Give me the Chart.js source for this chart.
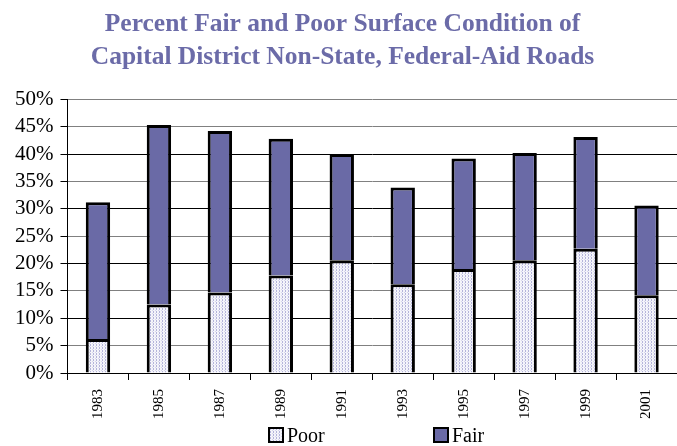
<!DOCTYPE html>
<html>
<head>
<meta charset="utf-8">
<script src="https://cdn.jsdelivr.net/npm/chart.js@4.4.1/dist/chart.umd.min.js"></script>
<style>
  html, body { margin: 0; padding: 0; background: #fff; }
  #wrap { width: 677px; height: 446px; position: relative; }
  #legend {
    position: absolute; left: 0; top: 425px; width: 677px; height: 21px;
    font-family: 'Liberation Serif', 'Times New Roman', serif; font-size: 20px; color: #000;
  }
  .item { position: absolute; top: 0; line-height: 21px; white-space: nowrap; }
  .box {
    display: inline-block; width: 12px; height: 12px; border: 2px solid #000;
    vertical-align: -1px; margin-right: 3px;
  }
</style>
</head>
<body>
<div id="wrap">
  <canvas id="chart"></canvas>
  <div id="legend"></div>
</div>
<script>
const years = ['1983', '1985', '1987', '1989', '1991', '1993', '1995', '1997', '1999', '2001'];
const poorValues = [6.2, 12.5, 14.7, 17.8, 20.6, 16.2, 19.0, 20.6, 22.7, 14.2];
const fairValues = [25.0, 32.8, 29.5, 25.0, 19.4, 17.7, 20.2, 19.6, 20.4, 16.4];
const yTicks = [0, 5, 10, 15, 20, 25, 30, 35, 40, 45, 50];

const fairColor = '#6a6aa6';
const titleColor = '#6b6ba8';
const serif = "'Liberation Serif', 'Times New Roman', serif";

Chart.defaults.font.family = serif;
Chart.defaults.color = '#000';

// dotted fill for the "Poor" bars
function makeDotTile() {
    const c = document.createElement('canvas');
    c.width = 3;
    c.height = 3;
    const g = c.getContext('2d');
    g.fillStyle = '#f4f4fa';
    g.fillRect(0, 0, 3, 3);
    g.fillStyle = '#b4b4da';
    g.fillRect(0, 0, 1, 1);
    g.fillRect(0, 2, 1, 1);
    g.fillStyle = '#d6d6ec';
    g.fillRect(2, 1, 1, 1);
    return c;
}

const dotTile = makeDotTile();

function buildChart() {
    const dotPattern = document.getElementById('chart').getContext('2d').createPattern(dotTile, 'repeat');

    const chart = new Chart(document.getElementById('chart'), {
        type: 'bar',
        data: {
            labels: years,
            datasets: [{
                label: 'Poor',
                data: poorValues,
                backgroundColor: dotPattern,
                borderColor: '#000',
                borderWidth: 3,
                barPercentage: 0.4,
                categoryPercentage: 1
            }, {
                label: 'Fair',
                data: fairValues,
                backgroundColor: fairColor,
                borderColor: '#000',
                borderWidth: 3,
                barPercentage: 0.4,
                categoryPercentage: 1
            }]
        },
        options: {
            responsive: true,
            maintainAspectRatio: false,
            animation: false,
            layout: { padding: { left: 8, right: 0, top: 4, bottom: 18 } },
            plugins: {
                title: {
                    display: true,
                    text: ['Percent Fair and Poor Surface Condition of', 'Capital District Non-State, Federal-Aid Roads'],
                    color: titleColor,
                    font: { family: serif, size: 25.5, weight: 'bold', lineHeight: 1.28 },
                    padding: { top: 4, bottom: 26 }
                },
                legend: { display: false },
                tooltip: { enabled: false }
            },
            scales: {
                x: {
                    stacked: true,
                    afterFit: (scale) => { scale.paddingRight = 0; scale.paddingLeft = 0; },
                    grid: {
                        drawOnChartArea: false,
                        offset: true,
                        color: '#000',
                        tickLength: 7
                    },
                    border: { color: '#000', width: 1 },
                    ticks: {
                        color: '#000',
                        minRotation: 90,
                        maxRotation: 90,
                        padding: 9,
                        font: { family: serif, size: 15 }
                    }
                },
                y: {
                    stacked: true,
                    min: 0,
                    max: 50,
                    afterBuildTicks: (axis) => { axis.ticks = yTicks.map(v => ({ value: v })); },
                    grid: {
                        color: (ctx) => (ctx.tick && ctx.tick.value % 10 === 0 && ctx.tick.value !== 50) ? '#000' : '#808080',
                        tickLength: 7,
                        tickColor: '#000'
                    },
                    border: { color: '#000', width: 1 },
                    ticks: {
                        color: '#000',
                        autoSkip: false,
                        padding: 7,
                        font: { family: serif, size: 21 },
                        callback: (v) => v + '%'
                    }
                }
            }
        }
    });

    // legend below the plot, built from the dataset labels
    const legendEl = document.getElementById('legend');
    const legendLeft = [268, 433];
    chart.data.datasets.forEach((ds, i) => {
        const item = document.createElement('span');
        item.className = 'item';
        item.style.left = legendLeft[i] + 'px';
        const box = document.createElement('span');
        box.className = 'box';
        if (i === 0) {
            box.style.backgroundImage = 'url(' + dotTile.toDataURL() + ')';
        } else {
            box.style.background = ds.backgroundColor;
        }
        item.appendChild(box);
        item.appendChild(document.createTextNode(ds.label));
        legendEl.appendChild(item);
    });
}

// make sure the serif faces are ready before the canvas draws text
Promise.all([
    document.fonts.load("20px 'Liberation Serif'"),
    document.fonts.load("bold 25px 'Liberation Serif'")
]).then(buildChart, buildChart);
</script>
</body>
</html>
